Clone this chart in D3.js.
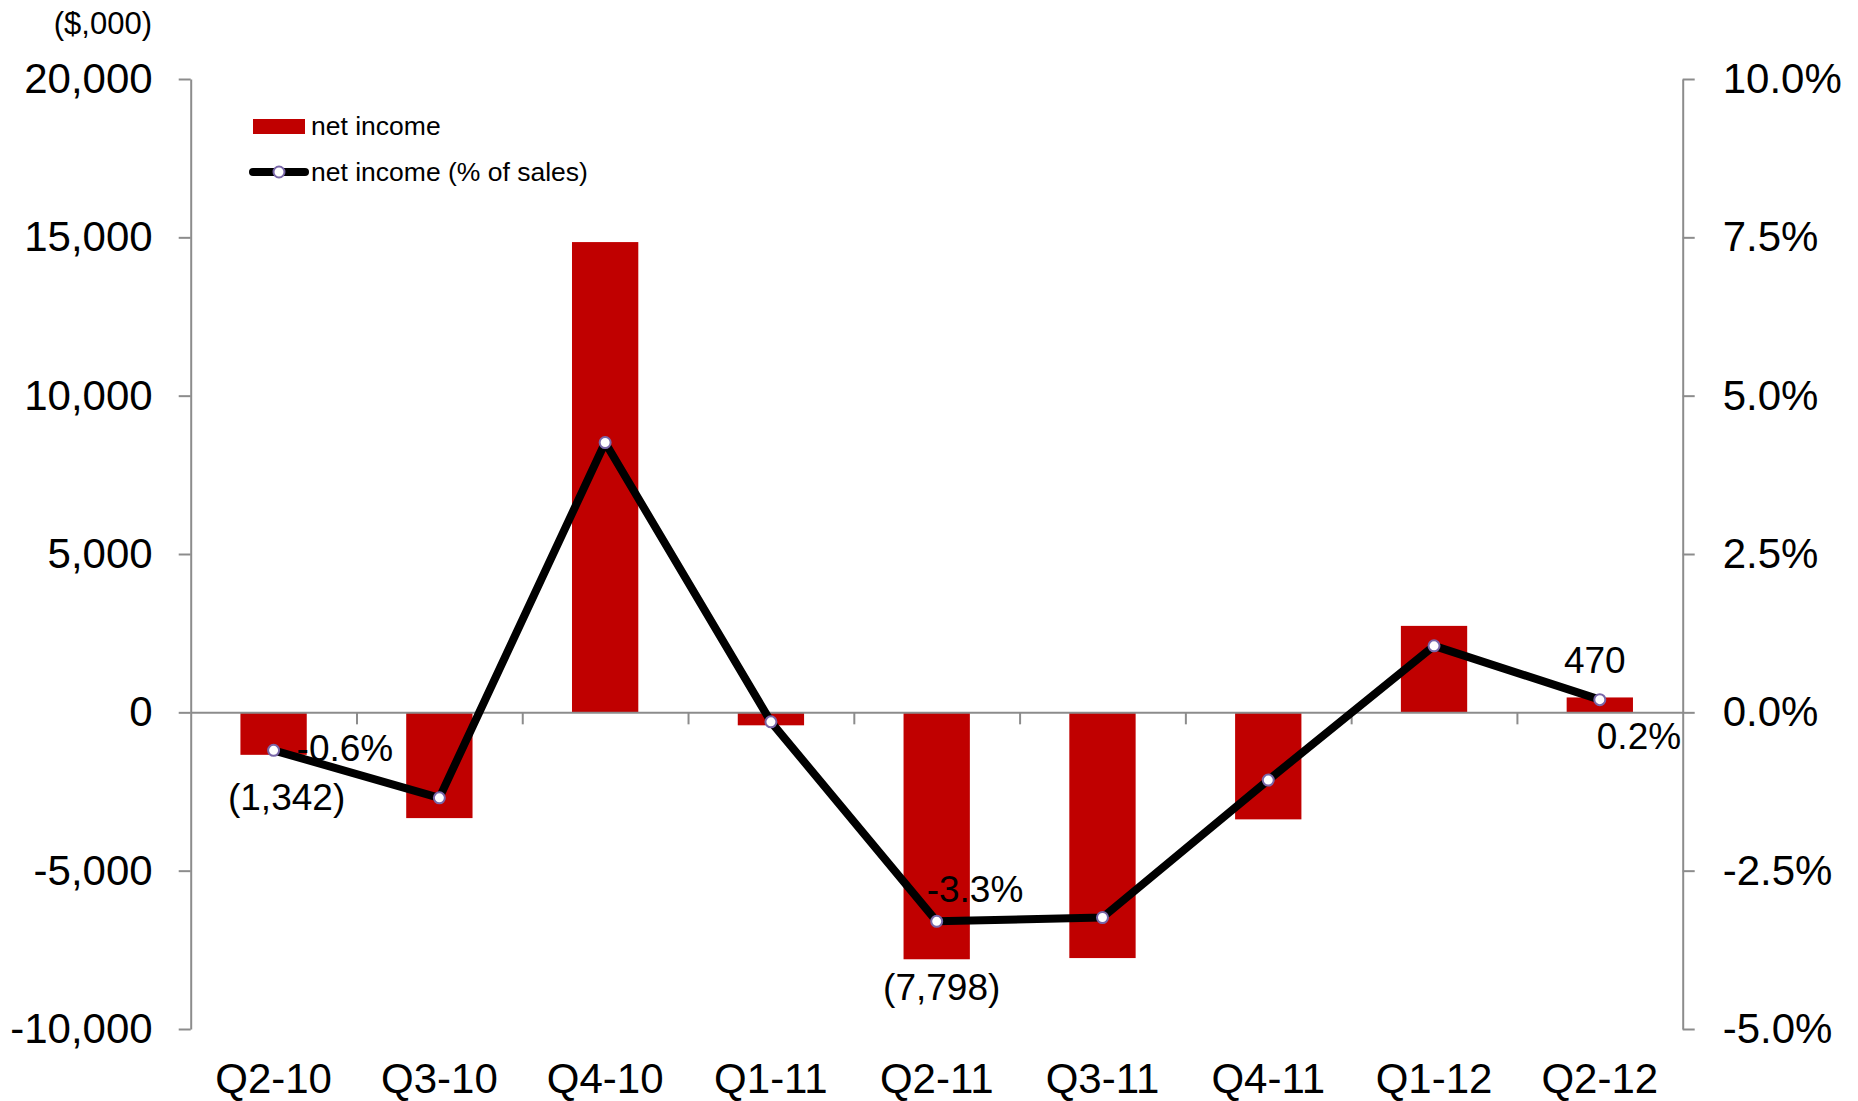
<!DOCTYPE html>
<html>
<head>
<meta charset="utf-8">
<script src="https://cdn.jsdelivr.net/npm/d3@7"></script>
<style>
  body { margin: 0; background: #fff; }
  text { font-family: "Liberation Sans", Arial, sans-serif; fill: #000; }
</style>
</head>
<body>
<div id="chart"></div>
<script>
// data
const categories = ['Q2-10', 'Q3-10', 'Q4-10', 'Q1-11', 'Q2-11', 'Q3-11', 'Q4-11', 'Q1-12', 'Q2-12']
const netIncome = [-1342, -3340, 14850, -410, -7798, -7760, -3380, 2730, 470]
const pctSales = [-0.6, -1.35, 4.26, -0.15, -3.3, -3.24, -1.07, 1.05, 0.2]
const leftTicks = [-10000, -5000, 0, 5000, 10000, 15000, 20000]
const rightTicks = [-5, -2.5, 0, 2.5, 5, 7.5, 10]

// labels shown on the chart: [index, text]
const barLabels = [[0, '(1,342)'], [4, '(7,798)'], [8, '470']]
const pctLabels = [[0, '-0.6%'], [4, '-3.3%'], [8, '0.2%']]

const width = 1858,
    height = 1101,
    plotLeft = 190.7,
    plotRight = 1682.7,
    plotTop = 79,
    plotBottom = 1029

const svg = d3.select('#chart')
    .append('svg')
    .attr('width', width)
    .attr('height', height)

const x = d3.scaleBand()
    .domain(categories)
    .range([plotLeft, plotRight])
    .paddingInner(0)

const y = d3.scaleLinear()
    .domain([-10000, 20000])
    .range([plotBottom, plotTop])

const y2 = d3.scaleLinear()
    .domain([-5, 10])
    .range([plotBottom, plotTop])

const hyphen = s => s.replace('\u2212', '-')
const axisGray = '#8c8c8c'

// left axis
const gl = svg.append('g')
    .attr('transform', `translate(${plotLeft},0)`)
    .call(d3.axisLeft(y)
        .tickValues(leftTicks)
        .tickSize(12)
        .tickSizeOuter(0)
        .tickPadding(26)
        .tickFormat(d => hyphen(d3.format(',')(d))))

// right axis
const gr = svg.append('g')
    .attr('transform', `translate(${plotRight},0)`)
    .call(d3.axisRight(y2)
        .tickValues(rightTicks)
        .tickSize(12)
        .tickSizeOuter(0)
        .tickPadding(28)
        .tickFormat(d => hyphen(d3.format('.1f')(d)) + '%'))

;[gl, gr].forEach(g => {
    g.select('.domain').attr('stroke', axisGray).attr('stroke-width', 2)
    g.selectAll('.tick line').attr('stroke', axisGray).attr('stroke-width', 2)
    g.selectAll('.tick text')
        .attr('font-size', 42)
        .attr('font-family', '"Liberation Sans", Arial, sans-serif')
        .attr('fill', '#000')
})

// bars
svg.selectAll('rect.bar')
    .data(netIncome)
    .enter()
    .append('rect')
    .attr('class', 'bar')
    .attr('x', (d, i) => x(categories[i]) + x.bandwidth() * 0.3)
    .attr('width', x.bandwidth() * 0.4)
    .attr('y', d => y(Math.max(0, d)))
    .attr('height', d => Math.abs(y(d) - y(0)))
    .attr('fill', '#C00000')

// zero line and category ticks
const xi = d3.scaleLinear().domain([0, categories.length]).range([plotLeft, plotRight])
const gz = svg.append('g')
    .attr('transform', `translate(0,${y(0)})`)
    .call(d3.axisBottom(xi)
        .tickValues(d3.range(1, categories.length))
        .tickSize(12)
        .tickSizeOuter(0)
        .tickFormat(''))
gz.select('.domain').attr('stroke', axisGray).attr('stroke-width', 2)
gz.selectAll('.tick line').attr('stroke', axisGray).attr('stroke-width', 2)

// category labels
const gx = svg.append('g')
    .attr('transform', `translate(0,${plotBottom + 34})`)
    .call(d3.axisBottom(x).tickSize(0).tickPadding(0))
gx.select('.domain').remove()
gx.selectAll('.tick text')
    .attr('font-size', 42)
    .attr('dy', '0.71em')
    .attr('font-family', '"Liberation Sans", Arial, sans-serif')
    .attr('fill', '#000')

// line
const cx = (d, i) => x(categories[i]) + x.bandwidth() / 2
const line = d3.line()
    .x(cx)
    .y(d => y2(d))

svg.append('path')
    .datum(pctSales)
    .attr('d', line)
    .attr('fill', 'none')
    .attr('stroke', '#000')
    .attr('stroke-width', 8)
    .attr('stroke-linejoin', 'round')

svg.selectAll('circle.pt')
    .data(pctSales)
    .enter()
    .append('circle')
    .attr('class', 'pt')
    .attr('cx', cx)
    .attr('cy', d => y2(d))
    .attr('r', 5.5)
    .attr('fill', '#fff')
    .attr('stroke', '#7866a8')
    .attr('stroke-width', 2)

// data labels
const barOffsets = { 0: [13, 43], 4: [5, 28], 8: [-5, -37] }
barLabels.forEach(([i, t]) => {
    const d = netIncome[i]
    svg.append('text')
        .attr('x', cx(d, i) + barOffsets[i][0])
        .attr('y', y(d) + barOffsets[i][1])
        .attr('text-anchor', 'middle')
        .attr('dominant-baseline', 'central')
        .attr('font-size', 37)
        .text(t)
})

const pctOffsets = { 0: [23, -2], 4: [-10, -32], 8: [-3, 37] }
pctLabels.forEach(([i, t]) => {
    const d = pctSales[i]
    svg.append('text')
        .attr('x', cx(d, i) + pctOffsets[i][0])
        .attr('y', y2(d) + pctOffsets[i][1])
        .attr('dominant-baseline', 'central')
        .attr('font-size', 37)
        .text(t)
})

// unit label
svg.append('text')
    .attr('x', 152)
    .attr('y', 23)
    .attr('text-anchor', 'end')
    .attr('dominant-baseline', 'central')
    .attr('font-size', 31)
    .text('($,000)')

// legend
const lg = svg.append('g')
lg.append('rect')
    .attr('x', 253)
    .attr('y', 119)
    .attr('width', 52)
    .attr('height', 15)
    .attr('fill', '#C00000')
lg.append('text')
    .attr('x', 311)
    .attr('y', 126)
    .attr('dominant-baseline', 'central')
    .attr('font-size', 26.5)
    .text('net income')
lg.append('line')
    .attr('x1', 253).attr('x2', 305)
    .attr('y1', 172).attr('y2', 172)
    .attr('stroke', '#000')
    .attr('stroke-width', 8)
    .attr('stroke-linecap', 'round')
lg.append('circle')
    .attr('cx', 279)
    .attr('cy', 172)
    .attr('r', 5.5)
    .attr('fill', '#fff')
    .attr('stroke', '#7866a8')
    .attr('stroke-width', 2)
lg.append('text')
    .attr('x', 311)
    .attr('y', 172)
    .attr('dominant-baseline', 'central')
    .attr('font-size', 26.5)
    .text('net income (% of sales)')
</script>
</body>
</html>
